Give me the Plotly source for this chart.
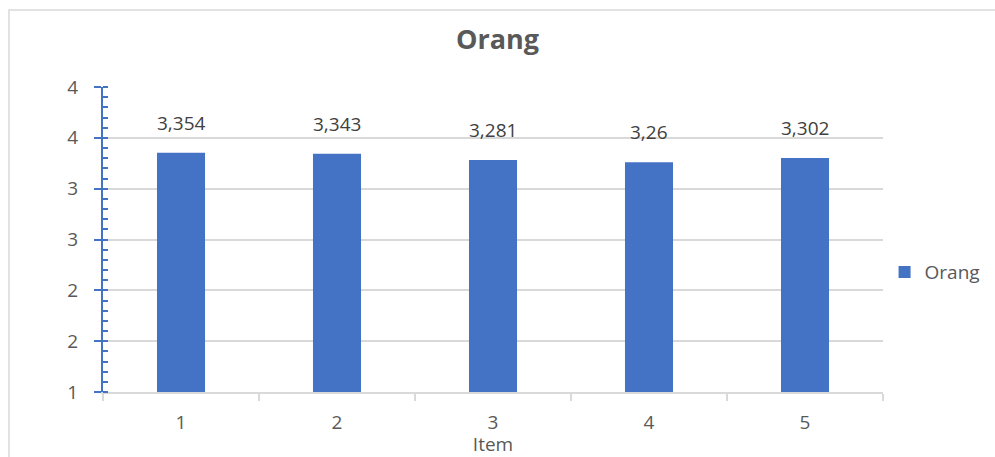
import plotly.graph_objects as go

categories = ["1", "2", "3", "4", "5"]
values = [3.354, 3.343, 3.281, 3.26, 3.302]
series_name = "Orang"
title_text = "Orang"
x_title = "Item"
y_tickvals = [1, 1.5, 2, 2.5, 3, 3.5, 4]
y_ticktext = ["1", "2", "2", "3", "3", "4", "4"]

labels = [str(v).replace(".", ",") for v in values]

BLUE = "#4472C4"
GRID = "#D9D9D9"
TXT = "#595959"
FONT = "Open Sans"

fig = go.Figure()
fig.add_trace(go.Bar(
    x=categories, y=values, name=series_name,
    marker=dict(color=BLUE, line=dict(width=0)),
))
fig.add_trace(go.Scatter(x=categories, y=[None] * len(categories), yaxis="y2",
                         showlegend=False, hoverinfo="skip", mode="markers"))

for i, (v, t) in enumerate(zip(values, labels)):
    fig.add_annotation(x=i, y=v, text=t, showarrow=False, yanchor="bottom",
                       yshift=15, font=dict(family=FONT, size=19, color="#404040"))

fig.update_layout(
    width=995, height=457,
    margin=dict(l=103, r=112, t=87, b=65, autoexpand=False),
    paper_bgcolor="white", plot_bgcolor="white",
    font=dict(family=FONT, color=TXT),
    title=dict(text="<b>" + title_text + "</b>", x=0.5, xanchor="center",
               y=1 - 40 / 457, yanchor="middle", font=dict(size=27, color=TXT)),
    bargap=0.692,
    showlegend=True,
    legend=dict(x=1.002, xref="paper", y=0.393, xanchor="left", yanchor="middle",
                font=dict(size=19, color=TXT), bgcolor="rgba(0,0,0,0)",
                itemwidth=30),
    xaxis=dict(
        type="category", showgrid=False, showline=True, linecolor=GRID, linewidth=1.5,
        ticks="outside", ticklen=7, tickcolor=GRID, tickwidth=1.5, tickson="boundaries",
        tickfont=dict(size=19, color=TXT), ticklabelstandoff=12,
        title=dict(text=x_title, font=dict(size=19, color=TXT), standoff=11),
    ),
    yaxis=dict(
        range=[1, 4], tickvals=y_tickvals, ticktext=y_ticktext,
        showgrid=True, gridcolor=GRID, gridwidth=1.5,
        showline=True, linecolor=BLUE, linewidth=2,
        ticks="outside", ticklen=7, tickcolor=BLUE, tickwidth=2,
        tickfont=dict(size=19, color=TXT), ticklabelstandoff=12,
        minor=dict(dtick=0.1, tick0=1, ticks="inside", ticklen=5, tickcolor=BLUE, tickwidth=1.5,
                   showgrid=False),
        zeroline=False,
    ),
    yaxis2=dict(
        range=[1, 4], overlaying="y", side="left", tickvals=y_tickvals,
        showticklabels=False, showgrid=False, showline=False, zeroline=False,
        ticks="inside", ticklen=5, tickcolor=BLUE, tickwidth=2,
    ),
)

# chart border
fig.add_shape(type="rect", xref="paper", yref="paper",
              x0=(9 - 103) / 780, x1=(1010 - 103) / 780,
              y0=(392 - 470) / 305, y1=(392 - 10) / 305,
              line=dict(color=GRID, width=1.5), fillcolor="rgba(0,0,0,0)", layer="below")

fig.write_html("out.html")
